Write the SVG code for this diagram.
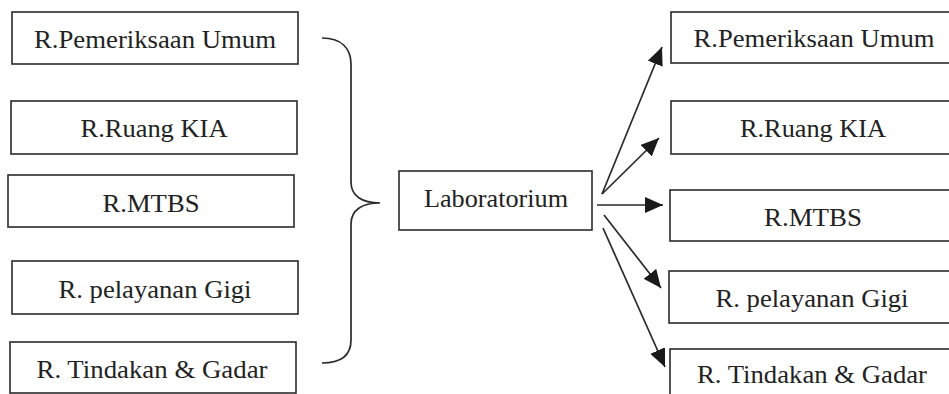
<svg xmlns="http://www.w3.org/2000/svg" width="949" height="394" viewBox="0 0 949 394">
<style>
.box{fill:#fff;stroke:#2a2a2a;stroke-width:1.6}
.lbl{font-family:"Liberation Serif","Times New Roman",serif;font-size:25px;fill:#222;text-anchor:middle}
.con{fill:none;stroke:#2a2a2a;stroke-width:1.7}
</style>
<defs>
<marker id="ah" markerUnits="userSpaceOnUse" markerWidth="19" markerHeight="16" refX="18" refY="8" orient="auto">
<path d="M0,0 L18,8 L0,16 z" fill="#1a1a1a"/>
</marker>
</defs>
<rect width="949" height="394" fill="#fff"/>
<g id="left-umum"><rect class="box" x="12" y="12" width="286" height="52"/><text class="lbl" x="155" y="48" textLength="242" lengthAdjust="spacingAndGlyphs">R.Pemeriksaan Umum</text></g>
<g id="left-kia"><rect class="box" x="11" y="101" width="286" height="53"/><text class="lbl" x="154" y="137" textLength="147" lengthAdjust="spacingAndGlyphs">R.Ruang KIA</text></g>
<g id="left-mtbs"><rect class="box" x="8" y="175" width="286" height="52"/><text class="lbl" x="151" y="212" textLength="97" lengthAdjust="spacingAndGlyphs">R.MTBS</text></g>
<g id="left-gigi"><rect class="box" x="12" y="261" width="286" height="53"/><text class="lbl" x="155" y="298" textLength="193" lengthAdjust="spacingAndGlyphs">R. pelayanan Gigi</text></g>
<g id="left-gadar"><rect class="box" x="10" y="342" width="286" height="51"/><text class="lbl" x="152" y="378" textLength="231" lengthAdjust="spacingAndGlyphs">R. Tindakan &amp; Gadar</text></g>
<g id="lab"><rect class="box" x="399" y="171" width="193" height="59"/><text class="lbl" x="496" y="207" textLength="144" lengthAdjust="spacingAndGlyphs">Laboratorium</text></g>
<g id="right-umum"><rect class="box" x="671" y="12" width="300" height="51"/><text class="lbl" x="814" y="47" textLength="241" lengthAdjust="spacingAndGlyphs">R.Pemeriksaan Umum</text></g>
<g id="right-kia"><rect class="box" x="671" y="101" width="300" height="53"/><text class="lbl" x="813" y="137" textLength="146" lengthAdjust="spacingAndGlyphs">R.Ruang KIA</text></g>
<g id="right-mtbs"><rect class="box" x="670" y="190" width="300" height="51"/><text class="lbl" x="813" y="226" textLength="98" lengthAdjust="spacingAndGlyphs">R.MTBS</text></g>
<g id="right-gigi"><rect class="box" x="669" y="271" width="300" height="52"/><text class="lbl" x="812" y="307" textLength="193" lengthAdjust="spacingAndGlyphs">R. pelayanan Gigi</text></g>
<g id="right-gadar"><rect class="box" x="670" y="349" width="300" height="60"/><text class="lbl" x="812" y="383" textLength="230" lengthAdjust="spacingAndGlyphs">R. Tindakan &amp; Gadar</text></g>
<g id="connectors">
<path class="con" d="M322,38 C341,38 351,48 351,64 L351,182 C351,196 362,203 380,203 C362,203 351,210 351,224 L351,340 C351,356 341,363 322,363"/>
<line class="con" x1="602" y1="194" x2="662" y2="47" marker-end="url(#ah)"/>
<line class="con" x1="602" y1="194" x2="659" y2="138" marker-end="url(#ah)"/>
<line class="con" x1="597" y1="205" x2="663" y2="205" marker-end="url(#ah)"/>
<line class="con" x1="604" y1="215" x2="661" y2="288" marker-end="url(#ah)"/>
<line class="con" x1="603" y1="228" x2="665" y2="367" marker-end="url(#ah)"/>
</g>
</svg>
